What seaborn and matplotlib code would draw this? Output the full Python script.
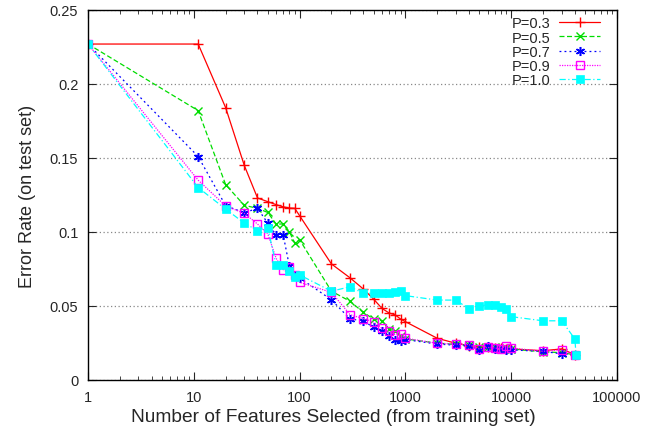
import numpy as np
import pandas as pd
import matplotlib
matplotlib.use("Agg")
import matplotlib.pyplot as plt
import seaborn as sns

# feature counts (x axis)
n_features = [1, 11, 20, 30, 40, 50, 60, 70, 80, 90, 100,
              200, 300, 400, 500, 600, 700, 800, 900, 1000,
              2000, 3000, 4000, 5000, 6000, 7000, 8000, 9000, 10000,
              20000, 30000, 40000]

err_p03 = [0.227, 0.227, 0.184, 0.145, 0.123, 0.1205, 0.1185, 0.117, 0.1162, 0.116, 0.111,
           0.0784, 0.069, 0.0615, 0.0547, 0.0484, 0.0453, 0.044, 0.0412, 0.0394,
           0.0282, 0.0248, 0.0232, 0.0225, 0.022, 0.0218, 0.0215, 0.0212, 0.021,
           0.0198, 0.021, 0.0171]
err_p05 = [0.227, 0.182, 0.132, 0.118, 0.116, 0.1132, 0.1054, 0.1054, 0.1002, 0.0926, 0.0948,
           0.060, 0.0532, 0.0457, 0.0412, 0.040, 0.0345, 0.0333, 0.0295, 0.0277,
           0.025, 0.024, 0.0235, 0.022, 0.0225, 0.022, 0.021, 0.0215, 0.021,
           0.019, 0.0185, 0.017]
err_p07 = [0.227, 0.151, 0.1178, 0.113, 0.116, 0.106, 0.098, 0.098, 0.077, 0.0705, 0.069,
           0.0542, 0.0412, 0.040, 0.0355, 0.0333, 0.030, 0.0273, 0.0266, 0.0273,
           0.0243, 0.0235, 0.023, 0.0203, 0.0232, 0.021, 0.021, 0.0205, 0.0203,
           0.0194, 0.0176, 0.0169]
err_p09 = [0.227, 0.135, 0.1176, 0.1126, 0.1054, 0.0988, 0.0822, 0.0745, 0.0766, 0.071, 0.066,
           0.0592, 0.0441, 0.0415, 0.0392, 0.0348, 0.0328, 0.0307, 0.0313, 0.0282,
           0.0248, 0.0243, 0.0239, 0.021, 0.022, 0.0216, 0.021, 0.0232, 0.0216,
           0.0194, 0.0203, 0.0169]

# P=1.0 has one extra point at the end
n_features_p10 = n_features + [41000]
err_p10 = [0.227, 0.130, 0.1155, 0.106, 0.101, 0.103, 0.0775, 0.078, 0.0735, 0.0695, 0.071,
           0.060, 0.063, 0.0586, 0.0586, 0.059, 0.0586, 0.0592, 0.0604, 0.057,
           0.054, 0.054, 0.048, 0.0502, 0.0507, 0.0507, 0.049, 0.048, 0.0428,
           0.040, 0.040, 0.0277, 0.017]

labels = ["P=0.3", "P=0.5", "P=0.7", "P=0.9", "P=1.0"]

sns.set_style("ticks")
plt.rcParams['font.family'] = ['Liberation Sans', 'DejaVu Sans']
plt.rcParams['font.size'] = 10

fig = plt.figure(figsize=(6.62, 4.27), dpi=100)
ax = fig.add_axes([88 / 662, 46 / 427, 529 / 662, 370 / 427])

series = [
    (n_features, err_p03, dict(color="#ff0000", marker="+", linestyle="-",
                               markersize=7, markeredgewidth=1.0)),
    (n_features, err_p05, dict(color="#00dd00", marker="x", linestyle=(0, (4, 2)),
                               markersize=5.5, markeredgewidth=1.0)),
    (n_features, err_p07, dict(color="#0000ff", marker=(6, 2, 0), linestyle=(0, (1.5, 2.5)),
                               markersize=6.5, markeredgewidth=1.1)),
    (n_features, err_p09, dict(color="#ff00ff", marker="s", linestyle=(0, (1, 1)),
                               markersize=6, markeredgewidth=1.0, markerfacecolor="none")),
    (n_features_p10, err_p10, dict(color="#00ffff", marker="s", linestyle=(0, (5, 2, 1, 2)),
                                   markersize=6, markeredgewidth=0.5)),
]

for (xs, ys, style), lab in zip(series, labels):
    df = pd.DataFrame({"features": xs, "error": ys})
    sns.lineplot(data=df, x="features", y="error", ax=ax, label=lab,
                 estimator=None, linewidth=0.9, markeredgecolor=style["color"], **style)

ax.set_xscale("log")
ax.set_xlim(1, 100000)
ax.set_ylim(0, 0.25)
ax.set_xticks([1, 10, 100, 1000, 10000, 100000])
ax.set_xticklabels(["1", "10", "100", "1000", "10000", "100000"])
ax.set_yticks([0, 0.05, 0.1, 0.15, 0.2, 0.25])
ax.set_yticklabels(["0", "0.05", "0.1", "0.15", "0.2", "0.25"])
ax.tick_params(which="both", direction="in", top=True, right=True, labelsize=10.5, pad=7)
ax.tick_params(which="major", length=6)
ax.tick_params(which="minor", length=3)
ax.yaxis.grid(True, linestyle=(0, (1, 2)), color="#888888", linewidth=0.9)

for sp in ax.spines.values():
    sp.set_color("black")
    sp.set_linewidth(1.0)

ax.set_xlabel("Number of Features Selected (from training set)", fontsize=13.8, labelpad=4)
ax.xaxis.set_label_coords((333 - 88) / 529, -0.075)
ax.set_ylabel("Error Rate (on test set)", fontsize=13, labelpad=10)

ax.legend(loc="upper right", frameon=False, markerfirst=False, fontsize=10.5,
          handlelength=2.8, labelspacing=0.02, borderaxespad=0, borderpad=0,
          handletextpad=0.6, bbox_to_anchor=(512 / 529, 0.983))

fig.savefig("out.png", dpi=100)
